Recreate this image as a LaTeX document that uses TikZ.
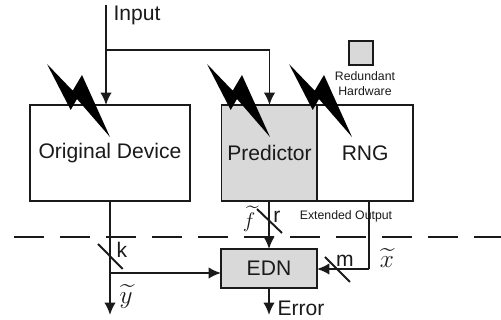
\documentclass[tikz,border=0pt]{standalone}
\usepackage{amsmath,amssymb}
\usepackage{fontspec}
\setmainfont{Liberation Sans}
\usetikzlibrary{arrows.meta}
\definecolor{hwgray}{HTML}{D9D9D9}
\definecolor{inkblack}{HTML}{1A1A1A}
\tikzset{
  wire/.style={line width=1.1pt,color=inkblack},
  arrowwire/.style={wire,-{Latex[length=7pt,width=6.5pt]}},
  block/.style={draw=inkblack,line width=1.1pt,inner sep=0pt,outer sep=0pt,text=inkblack,font=\fontsize{12}{14}\selectfont},
  redundant/.style={block,fill=hwgray},
  lbl/.style={inner sep=0pt,text=inkblack,font=\fontsize{12}{14}\selectfont},
  mathlbl/.style={inner sep=0pt,text=inkblack,font=\fontsize{15}{17}\selectfont},
  smalllbl/.style={inner sep=0pt,text=inkblack,font=\fontsize{7}{8}\selectfont},
}
\begin{document}
\begin{tikzpicture}[x=0.02cm,y=-0.02cm]
    \useasboundingbox (0,0) rectangle (501,320);
    % blocs
    \node[block,minimum width=3.19cm,minimum height=1.92cm] (orig) at (110,153) {Original Device};
    \node[redundant,minimum width=1.92cm,minimum height=1.92cm] (pred) at (269.5,153) {Predictor};
    \node[block,minimum width=1.91cm,minimum height=1.92cm] (rng) at (365.2,153) {RNG};
    \node[redundant,minimum width=1.92cm,minimum height=0.78cm] (edn) at (269,268.5) {EDN};
    \node[redundant,minimum width=0.48cm,minimum height=0.48cm] (legend) at (361,53) {};
    % textes
    \node[lbl] (inputlabel) at (137,15) {Input};
    \node[lbl] (errorlabel) at (301,308) {Error};
    \node[lbl] (klabel) at (122,250) {k};
    \node[lbl] (rlabel) at (277,217) {r};
    \node[lbl] (mlabel) at (345,261) {m};
    \node[smalllbl] (redlabel) at (365,76) {Redundant};
    \node[smalllbl] (hardlabel) at (365,91) {Hardware};
    \node[smalllbl] (extlabel) at (346,216) {Extended Output};
    \node[mathlbl] (ylabel) at (126,296) {$\widetilde{y}$};
    \node[mathlbl,font=\fontsize{13}{15}\selectfont] (flabel) at (249,219) {$\widetilde{f}$};
    \node[mathlbl] (xlabel) at (387,258) {$\widetilde{x}$};
    % points libres
    \coordinate (in) at (106,5);
    \coordinate (split) at (106,50);
    \coordinate (yout) at (110,315);
    \coordinate (ytap) at (110,273);
    \coordinate (errout) at (269,315);
    \coordinate (xcorner) at (369,269);
    \coordinate (dashstart) at (14,237);
    \coordinate (dashend) at (501,237);
    % liaisons
    \draw[arrowwire] (in) -- (in |- orig.north);
    \draw[arrowwire] (split) -| (pred.north);
    \draw[arrowwire] (orig.south -| yout) -- (yout);
    \draw[arrowwire] (ytap) -- (ytap -| edn.west);
    \draw[arrowwire] (pred.south -| edn.north) -- (edn.north);
    \draw[arrowwire] (edn.south) -- (errout);
    \draw[wire] (xcorner |- rng.south) -- (xcorner);
    \draw[arrowwire] (xcorner) -- (edn.east |- xcorner);
    \draw[wire,dash pattern=on 17pt off 9.2pt] (dashstart) -- (dashend);
    % barres de bus
    \foreach \xa/\ya/\xb/\yb in {98/244/122.7/269,257/209/282/233,325/257/350/282}
    \draw[wire] (\xa,\ya) -- (\xb,\yb);
    % eclairs
    \foreach \dx in {0,160,242}
    \fill[black,shift={(\dx,0)}] (47,64) -- (72.7,90.7) -- (82,75) -- (110,137) -- (77,99) -- (70.7,110) -- cycle;
\end{tikzpicture}
\end{document}
